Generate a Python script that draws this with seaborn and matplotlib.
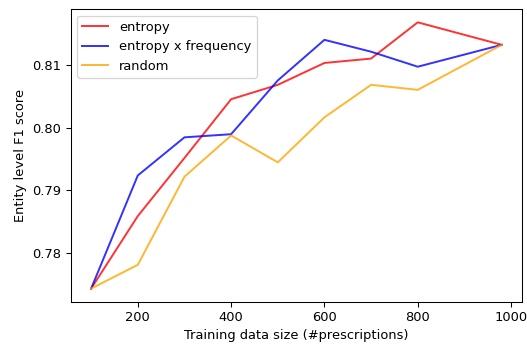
import numpy as np
import pandas as pd
import matplotlib
matplotlib.use('Agg')
import matplotlib.pyplot as plt
import seaborn as sns

# training sizes and F1 scores
sizes = [100, 200, 300, 400, 500, 600, 700, 800, 980]
entropy = [0.7743, 0.7859, 0.7952, 0.8046, 0.8069, 0.8104, 0.8111, 0.8169, 0.8133]
entropy_freq = [0.7743, 0.7924, 0.7985, 0.7990, 0.8076, 0.8141, 0.8122, 0.8098, 0.8133]
random_sel = [0.7743, 0.7781, 0.7922, 0.7988, 0.7945, 0.8017, 0.8069, 0.8061, 0.8133]

labels = ['entropy', 'entropy x frequency', 'random']
colors = ['red', 'blue', 'orange']

df = pd.DataFrame({
    'size': sizes * 3,
    'f1': entropy + entropy_freq + random_sel,
    'method': [labels[0]] * len(sizes) + [labels[1]] * len(sizes) + [labels[2]] * len(sizes),
})

dpi = 94
fig = plt.figure(figsize=(527 / dpi, 347 / dpi), dpi=dpi)
ax = fig.add_subplot(111)
fig.subplots_adjust(left=0.134, right=0.991, top=0.974, bottom=0.13)

sns.lineplot(data=df, x='size', y='f1', hue='method', hue_order=labels,
             palette=dict(zip(labels, colors)), alpha=0.8, linewidth=1.5, ax=ax)

ax.set_xlabel('Training data size (#prescriptions)')
ax.set_ylabel('Entity level F1 score')
ax.set_xticks([200, 400, 600, 800, 1000])
ax.set_yticks([0.78, 0.79, 0.80, 0.81])
ax.legend(loc='upper left')

fig.savefig('out.png', dpi=dpi)
